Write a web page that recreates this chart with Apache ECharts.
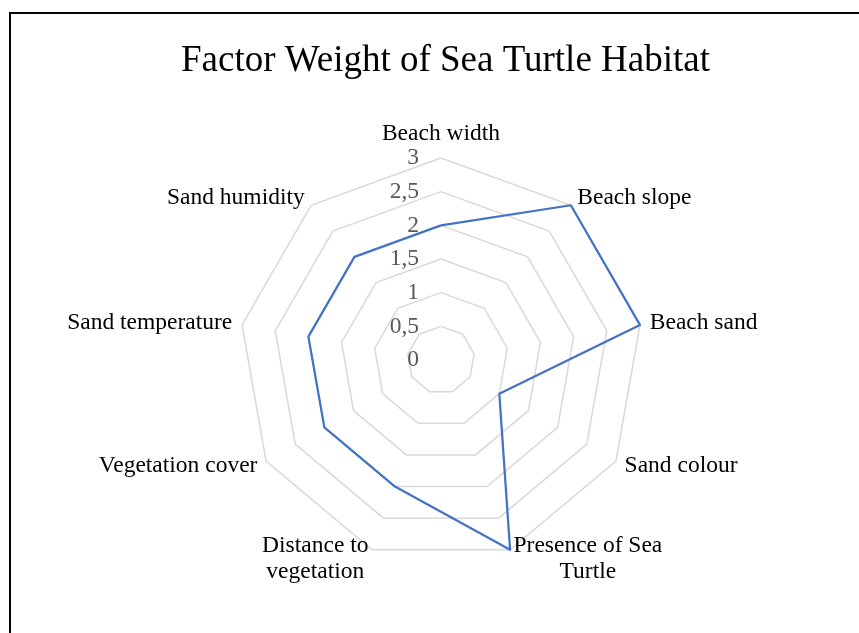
<!DOCTYPE html>
<html>
<head>
<meta charset="utf-8">
<script src="https://cdn.jsdelivr.net/npm/echarts@6/dist/echarts.min.js"></script>
<style>
html,body{margin:0;padding:0;background:#fff;}
#chart{width:859px;height:633px;}
</style>
</head>
<body>
<div id="chart"></div>
<script>
// Data (clockwise order starting at top, as in the reference)
const categories = ['Beach width', 'Beach slope', 'Beach sand', 'Sand colour', 'Presence of Sea\nTurtle', 'Distance to\nvegetation', 'Vegetation cover', 'Sand temperature', 'Sand humidity'];
const weights = [2, 3, 3, 1, 3, 2, 2, 2, 2];
const axisMax = 3;
const tickStep = 0.5;

const FONT = '"Liberation Serif", "Times New Roman", serif';

// ECharts lays radar indicators counter-clockwise; reorder for clockwise
const order = [0].concat(categories.map((_, i) => i).slice(1).reverse());

const indicator = order.map((idx, k) => {
  const ind = { name: categories[idx], min: 0, max: axisMax };
  if (k === 0) ind.axisLabel = { show: true };
  return ind;
});
const seriesValues = order.map(idx => weights[idx]);

const chart = echarts.init(document.getElementById('chart'), null, { renderer: 'canvas' });
chart.setOption({
  backgroundColor: '#ffffff',
  animation: false,
  title: {
    text: 'Factor Weight of Sea Turtle Habitat',
    left: 176,
    top: 38,
    textStyle: { fontFamily: FONT, fontSize: 37, fontWeight: 'normal', color: '#000000' }
  },
  graphic: [{
    type: 'polyline',
    shape: { points: [[10, 640], [10, 13], [870, 13]] },
    style: { stroke: '#000000', lineWidth: 2, fill: null },
    silent: true
  }],
  radar: {
    center: [441, 360],
    radius: 202,
    startAngle: 90,
    splitNumber: axisMax / tickStep,
    shape: 'polygon',
    indicator: indicator,
    nameGap: 10,
    axisName: {
      color: '#000000',
      fontFamily: FONT,
      fontSize: 23.5,
      formatter: function (name) {
        return name.split('\n').map(l => '{c|' + l + '}').join('\n');
      },
      rich: {
        c: { align: 'center', fontFamily: FONT, fontSize: 23.5, color: '#000000', lineHeight: 26 }
      }
    },
    axisLine: { show: false },
    axisTick: { show: false },
    splitArea: { show: false },
    splitLine: { lineStyle: { color: '#d9d9d9', width: 1.5 } },
    axisLabel: {
      show: false,
      color: '#595959',
      fontFamily: FONT,
      fontSize: 23.5,
      margin: 22,
      formatter: function (v) { return String(v).replace('.', ','); }
    }
  },
  series: [{
    type: 'radar',
    symbol: 'none',
    lineStyle: { color: '#4472C4', width: 2.25 },
    itemStyle: { color: '#4472C4' },
    data: [{ value: seriesValues, name: 'Weight' }]
  }]
});
</script>
</body>
</html>
